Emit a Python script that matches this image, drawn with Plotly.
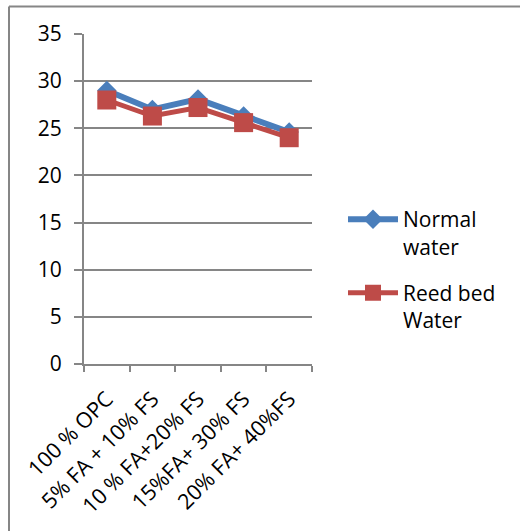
import plotly.graph_objects as go

categories = ["100 % OPC", "5% FA + 10% FS", "10 % FA+20% FS", "15%FA+ 30% FS", "20% FA+ 40%FS"]
normal_water = [29.0, 27.0, 28.1, 26.3, 24.6]
reed_bed_water = [28.0, 26.3, 27.2, 25.6, 24.0]
y_ticks = [0, 5, 10, 15, 20, 25, 30, 35]

FONT = "Open Sans"
GRAY = "#868686"
FS = 21

fig = go.Figure()
fig.add_trace(go.Scatter(
    x=categories, y=normal_water, name="Normal<br>water", mode="lines+markers",
    legendgroup="normal",
    line=dict(color="#4a7ebb", width=6),
    marker=dict(symbol="diamond", size=15, color="#4a7ebb"),
))
fig.add_trace(go.Scatter(
    x=categories, y=reed_bed_water, name="Reed bed<br>Water", mode="lines+markers",
    legendgroup="reed",
    line=dict(color="#be4b48", width=5),
    marker=dict(symbol="square", size=19, color="#be4b48"),
))

L, R, T, B = 84, 208, 34, 167
W, H = 520, 531
pw, ph = W - L - R, H - T - B

def px(x):
    return (x - L) / pw

def py(y):
    return (H - B - y) / ph

fig.update_layout(
    width=W, height=H,
    margin=dict(l=L, r=R, t=T, b=B, autoexpand=False),
    paper_bgcolor="white", plot_bgcolor="white",
    font=dict(family=FONT, size=FS, color="black"),
    showlegend=True,
    legend=dict(x=px(343), y=py(199), xanchor="left", yanchor="top",
                font=dict(size=FS), tracegroupgap=16, itemwidth=50, valign="top",
                traceorder="grouped", bgcolor="rgba(0,0,0,0)"),
    xaxis=dict(
        type="category", tickangle=-45, showgrid=False, automargin=False,
        showline=True, linecolor=GRAY, linewidth=2,
        ticks="outside", tickson="boundaries", ticklen=6, tickcolor=GRAY, tickwidth=2,
        tickfont=dict(size=21.5), range=[-0.5, 4.5], ticklabelstandoff=12,
    ),
    yaxis=dict(
        range=[0, 35], tickvals=y_ticks, showgrid=True, gridcolor=GRAY, gridwidth=2,
        automargin=False,
        showline=True, linecolor=GRAY, linewidth=2, zeroline=False,
        ticks="outside", ticklen=8, tickcolor=GRAY, tickwidth=2,
        tickfont=dict(size=FS), ticklabelstandoff=8,
    ),
    shapes=[
        dict(type="line", xref="paper", yref="paper", x0=px(9), x1=px(520), y0=py(6.5), y1=py(6.5),
             line=dict(color=GRAY, width=2)),
        dict(type="line", xref="paper", yref="paper", x0=px(9), x1=px(9), y0=py(6.5), y1=py(531),
             line=dict(color=GRAY, width=2)),
    ],
)

fig.write_html("out.html", config={"displayModeBar": False},
               post_script="document.body.style.margin='0px';document.body.style.overflow='hidden';")
